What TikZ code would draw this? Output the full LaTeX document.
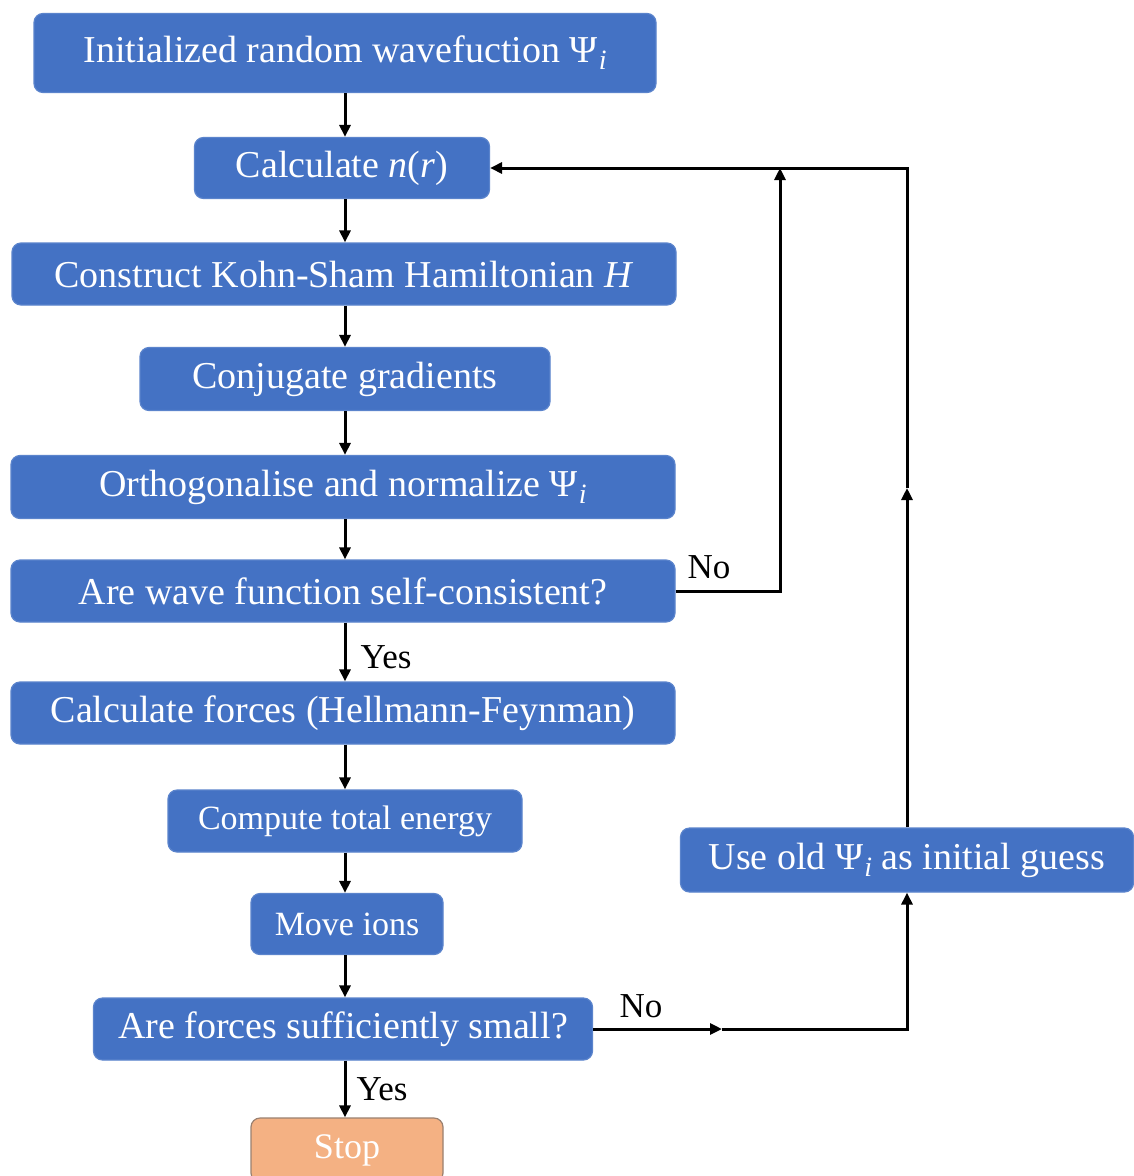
\documentclass[tikz,border=0pt]{standalone}
\usepackage{fontspec}
\setmainfont{Liberation Serif}
\usetikzlibrary{arrows.meta}
\definecolor{boxblue}{HTML}{4472C4}
\definecolor{boxedge}{HTML}{5B84CC}
\definecolor{stoporange}{HTML}{F4B183}
\definecolor{stopedge}{HTML}{9A8070}
\newcommand{\Psii}{Ψ\kern1pt\raisebox{-7pt}{\fontsize{28}{30}\selectfont\textit{i}}}
\tikzset{
  box/.style={draw=boxedge, line width=1.2pt, fill=boxblue, rounded corners=9pt, text=white, inner sep=0pt, align=center, font=\fontsize{38}{42}\selectfont},
  smallbox/.style={box, font=\fontsize{34}{38}\selectfont},
  stopbox/.style={draw=stopedge, line width=1.2pt, fill=stoporange, rounded corners=9pt, text=white, inner sep=0pt, font=\fontsize{36}{40}\selectfont},
  conn/.style={line width=3pt, draw=black},
  arr/.style={conn, -{Triangle[length=12pt,width=11pt]}},
  lbl/.style={font=\fontsize{35}{38}\selectfont, inner sep=0pt}
}
\begin{document}
\begin{tikzpicture}[x=1pt,y=-1pt]
\clip (0,0) rectangle (1134,1176);
\fill[white] (0,0) rectangle (1134,1176);
% nodes
\node[box, minimum width=622, minimum height=79] (b1) at (345,53) {Initialized random wavefuction \Psii};
\node[box, minimum width=295, minimum height=61] (b2) at (342,168) {Calculate \textit{n}(\textit{r})};
\node[box, minimum width=664, minimum height=62] (b3) at (344,274) {Construct Kohn-Sham Hamiltonian \textit{H}};
\node[box, minimum width=410, minimum height=63] (b4) at (345,379) {Conjugate gradients};
\node[box, minimum width=664, minimum height=63] (b5) at (343,487) {Orthogonalise and normalize \Psii};
\node[box, minimum width=664, minimum height=62] (b6) at (343,591) {Are wave function self-consistent?};
\node[box, minimum width=664, minimum height=62] (b7) at (343,713) {Calculate forces (Hellmann-Feynman)};
\node[smallbox, minimum width=354, minimum height=62] (b8) at (345,821) {Compute total energy};
\node[smallbox, minimum width=192, minimum height=61] (b9) at (347,924) {Move ions};
\node[box, minimum width=499, minimum height=62] (b10) at (343,1029) {Are forces sufficiently small?};
\node[stopbox, minimum width=192, minimum height=64] (b11) at (347,1150) {Stop};
\node[box, minimum width=453, minimum height=64] (b12) at (907,860) {Use old \Psii\ as initial guess};
% coordinates
\coordinate (c1) at (780,591);
\coordinate (c2) at (780,168);
\coordinate (c3) at (907,168);
\coordinate (m1) at (907,488);
\coordinate (nA) at (722,1029);
\coordinate (cB) at (907,1029);
% vertical flow
\draw[arr] (b1.south -| 345,0) -- (b2.north -| 345,0);
\draw[arr] (b2.south -| 345,0) -- (b3.north -| 345,0);
\draw[arr] (b3.south -| 345,0) -- (b4.north -| 345,0);
\draw[arr] (b4.south -| 345,0) -- (b5.north -| 345,0);
\draw[arr] (b5.south -| 345,0) -- (b6.north -| 345,0);
\draw[arr] (b6.south -| 345,0) -- node[lbl, right=14pt, pos=0.58] {Yes} (b7.north -| 345,0);
\draw[arr] (b7.south -| 345,0) -- (b8.north -| 345,0);
\draw[arr] (b8.south -| 345,0) -- (b9.north -| 345,0);
\draw[arr] (b9.south -| 345,0) -- (b10.north -| 345,0);
\draw[arr] (b10.south -| 345,0) -- node[lbl, right=10pt, pos=0.5] {Yes} (b11.north -| 345,0);
% No loop from b6
\draw[arr] (b6.east) -- (c1) -- (c2);
\node[lbl] (no1) at (709,567) {No};
% right loop
\draw[arr] (b12.north) -- (m1);
\draw[arr] (m1) -- (c3) -- (b2.east);
% No from b10
\draw[arr] (b10.east) -- (nA);
\draw[arr] (nA) -- (cB) -- (b12.south);
\node[lbl] (no2) at (641,1006) {No};
\end{tikzpicture}
\end{document}
